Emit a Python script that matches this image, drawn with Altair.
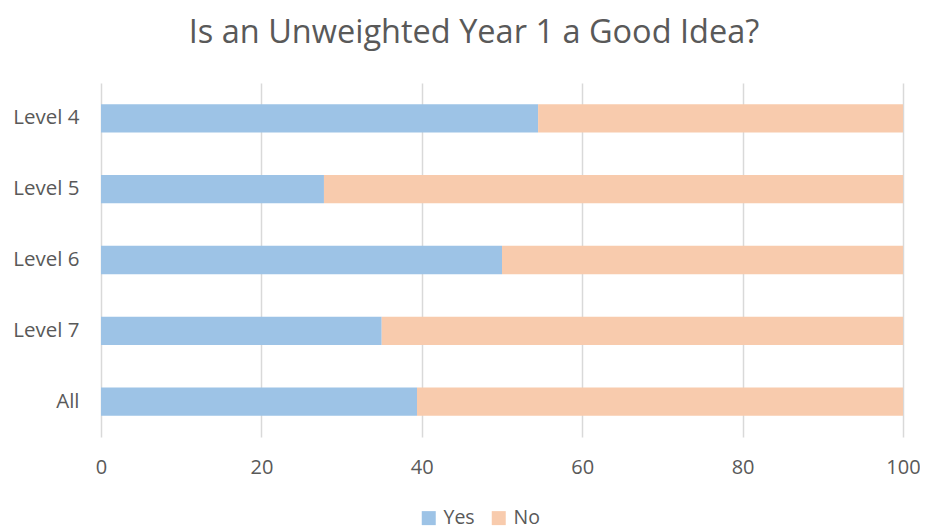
import altair as alt
import pandas as pd

categories = ["Level 4", "Level 5", "Level 6", "Level 7", "All"]
yes_values = [54.5, 27.8, 50.0, 35.0, 39.4]
no_values = [100 - v for v in yes_values]
series = ["Yes", "No"]
colors = ["#9DC3E6", "#F8CBAD"]

rows = []
for c, y, n in zip(categories, yes_values, no_values):
    rows.append({"category": c, "series": "Yes", "value": y, "order": 0})
    rows.append({"category": c, "series": "No", "value": n, "order": 1})
df = pd.DataFrame(rows)

FONT = "Open Sans"
GRAY = "#595959"

chart = alt.Chart(df).mark_bar().encode(
    y=alt.Y("category:N", sort=categories, title=None,
            scale=alt.Scale(paddingInner=0.6, paddingOuter=0.3),
            axis=alt.Axis(ticks=False, domain=False, labelFontSize=20.5, labelColor=GRAY,
                          labelFont=FONT, labelPadding=22)),
    x=alt.X("value:Q", stack="zero", title=None,
            scale=alt.Scale(domain=[0, 100], nice=False),
            axis=alt.Axis(values=[0, 20, 40, 60, 80, 100], ticks=False, domain=False,
                          grid=True, gridColor="#D9D9D9", gridWidth=1.5, labelFlush=False,
                          labelFontSize=20, labelColor=GRAY, labelFont=FONT, labelPadding=20)),
    color=alt.Color("series:N", sort=series,
                    scale=alt.Scale(domain=series, range=colors),
                    legend=alt.Legend(title=None, orient="none", direction="horizontal",
                                      legendX=318, legendY=425, symbolType="square",
                                      symbolSize=196, symbolStrokeWidth=0,
                                      labelFontSize=19.5, labelColor=GRAY, labelFont=FONT,
                                      columnPadding=14, labelOffset=5)),
    order=alt.Order("order:Q"),
).properties(
    width=802,
    height=354,
    title=alt.TitleParams("Is an Unweighted Year 1 a Good Idea?", fontSize=32.5,
                          font=FONT, color=GRAY, fontWeight="normal",
                          anchor="middle", dx=-28, offset=34),
    autosize=alt.AutoSizeParams(type="none"),
    padding={"left": 93, "top": 75, "right": 17, "bottom": 93},
).configure_view(stroke=None)

chart.save("out.html", embed_options={"renderer": "svg", "actions": False})
